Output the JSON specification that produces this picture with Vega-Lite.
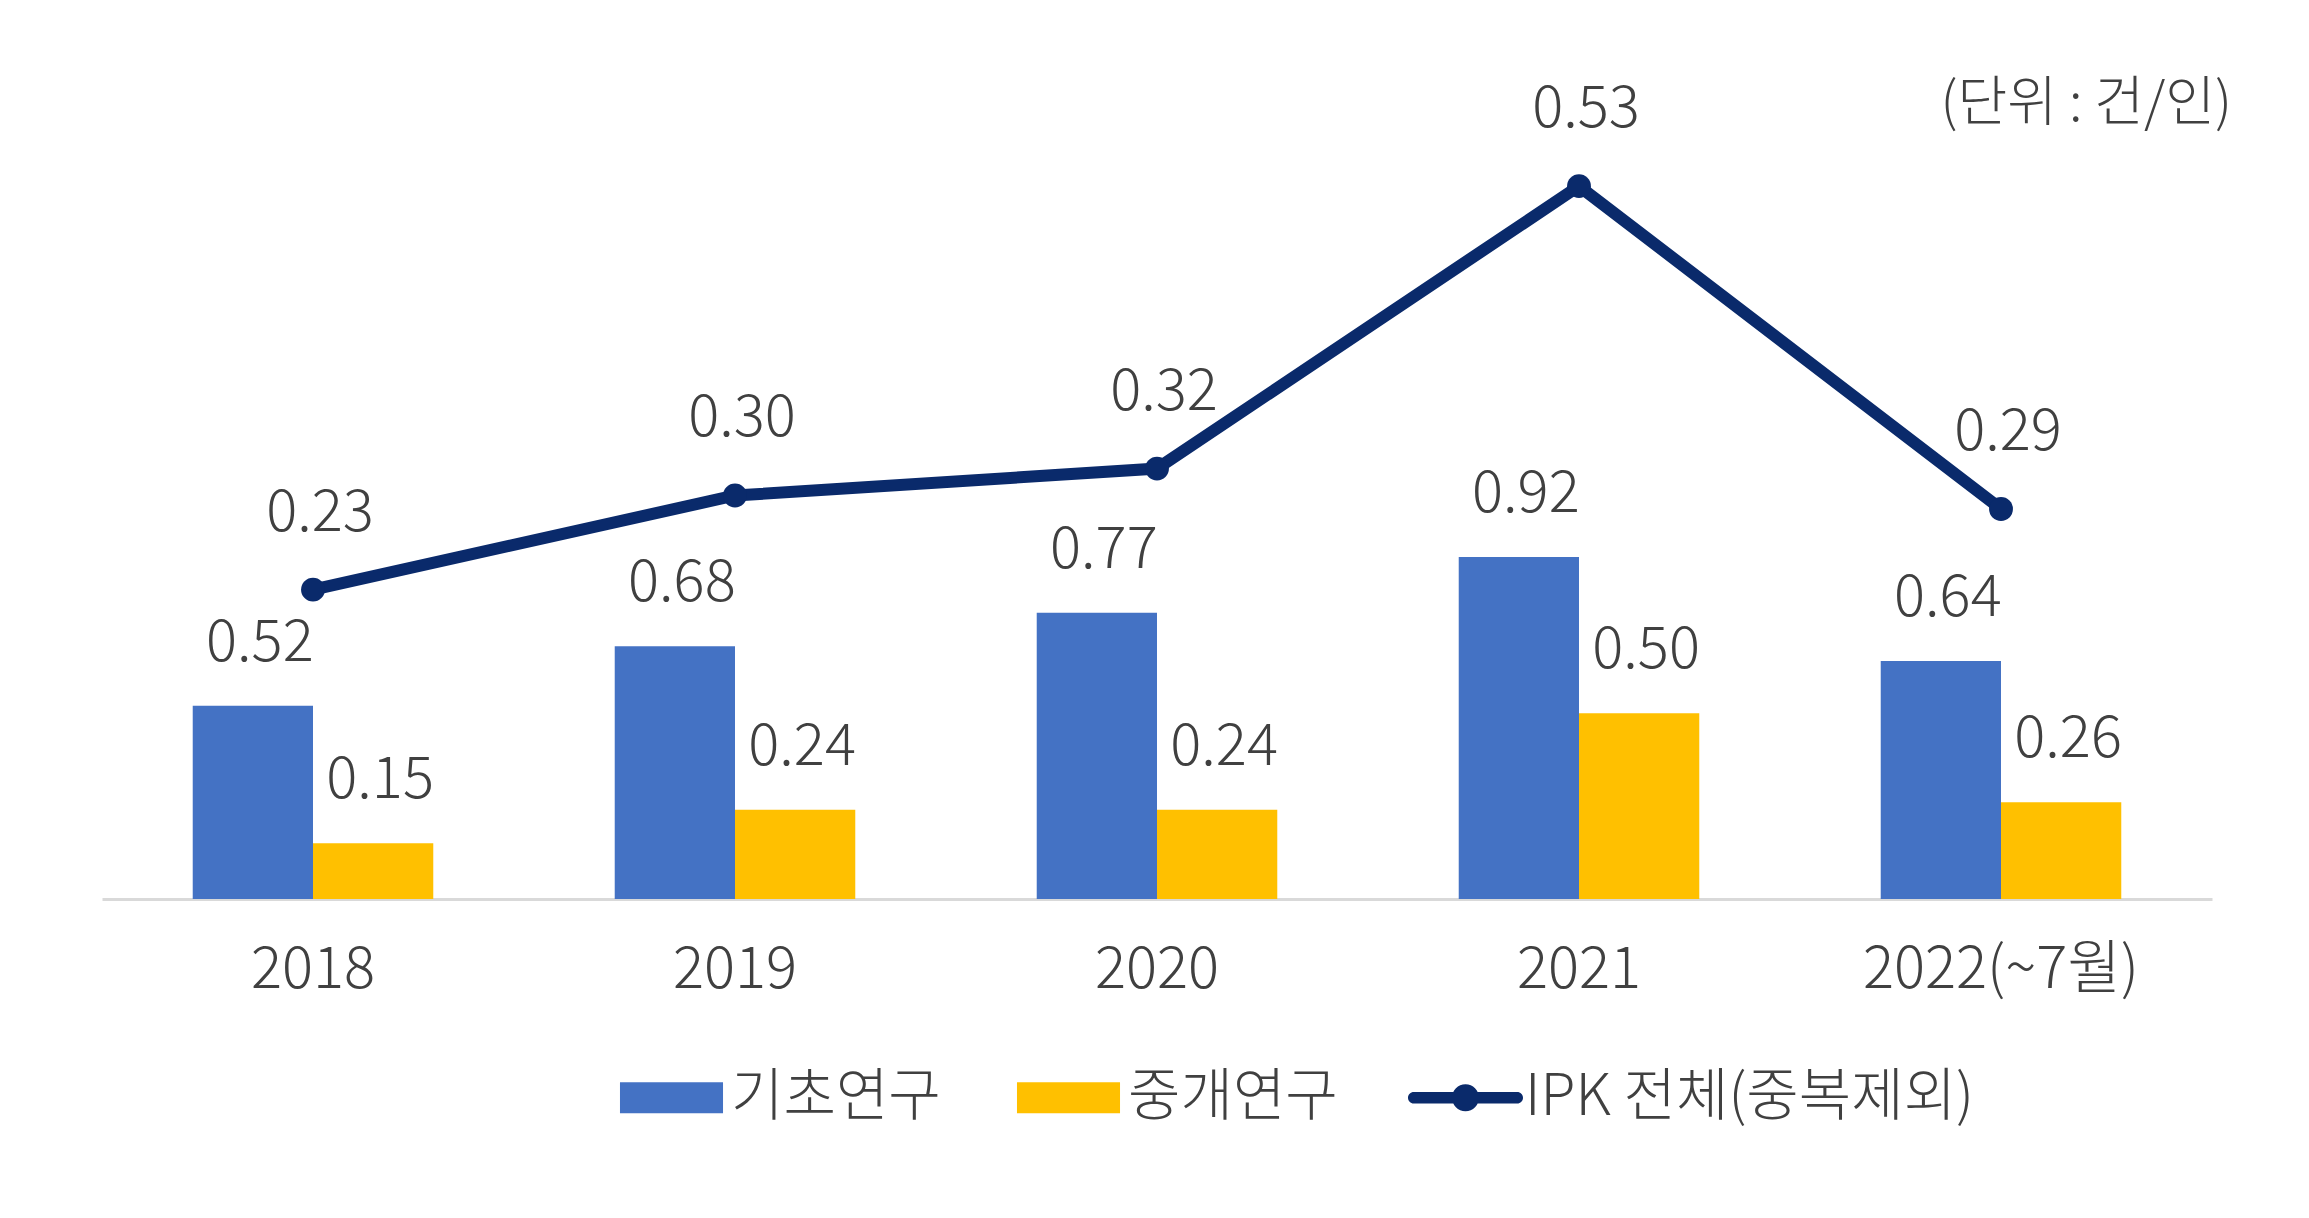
{
  "$schema": "https://vega.github.io/schema/vega-lite/v6.json",
  "width": 2110,
  "height": 881,
  "autosize": {"type": "none"},
  "padding": {"left": 102, "top": 18, "right": 97, "bottom": 319},
  "background": "white",
  "config": {"view": {"stroke": null}, "font": "Noto Sans CJK KR"},
  "title": {
    "text": "(단위 : 건/인)",
    "anchor": "end",
    "frame": "group",
    "orient": "top",
    "offset": 0,
    "baseline": "alphabetic",
    "dy": 157,
    "dx": 20,
    "fontSize": 54,
    "fontWeight": 300,
    "color": "#404040",
    "font": "Noto Sans CJK KR"
  },
  "data": {
    "values": [
      {"year": "2018", "series": "기초연구", "value": 0.52},
      {"year": "2019", "series": "기초연구", "value": 0.68},
      {"year": "2020", "series": "기초연구", "value": 0.77},
      {"year": "2021", "series": "기초연구", "value": 0.92},
      {"year": "2022(~7월)", "series": "기초연구", "value": 0.64},
      {"year": "2018", "series": "중개연구", "value": 0.15},
      {"year": "2019", "series": "중개연구", "value": 0.24},
      {"year": "2020", "series": "중개연구", "value": 0.24},
      {"year": "2021", "series": "중개연구", "value": 0.50},
      {"year": "2022(~7월)", "series": "중개연구", "value": 0.26},
      {"year": "2018", "series": "IPK 전체(중복제외)", "value": 0.23},
      {"year": "2019", "series": "IPK 전체(중복제외)", "value": 0.30},
      {"year": "2020", "series": "IPK 전체(중복제외)", "value": 0.32},
      {"year": "2021", "series": "IPK 전체(중복제외)", "value": 0.53},
      {"year": "2022(~7월)", "series": "IPK 전체(중복제외)", "value": 0.29}
    ]
  },
  "layer": [
    {
      "transform": [{"filter": "datum.series !== 'IPK 전체(중복제외)'"}],
      "encoding": {
        "x": {
          "field": "year",
          "type": "nominal",
          "sort": null,
          "scale": {"domain": ["2018", "2019", "2020", "2021", "2022(~7월)"], "paddingInner": 0.43, "paddingOuter": 0.215},
          "axis": {
            "title": null,
            "labelAngle": 0,
            "ticks": false,
            "tickSize": 0,
            "domainColor": "#D9D9D9",
            "domainWidth": 3,
            "labelFontSize": 58,
            "labelFontWeight": 300,
            "labelColor": "#404040",
            "labelFont": "Noto Sans CJK KR",
            "labelBaseline": "alphabetic",
            "labelPadding": 88,
            "labelLimit": 0,
            "labelOverlap": false,
            "grid": false
          }
        },
        "xOffset": {"field": "series", "type": "nominal", "scale": {"domain": ["기초연구", "중개연구"], "paddingInner": 0, "paddingOuter": 0}},
        "y": {"field": "value", "type": "quantitative", "scale": {"domain": [0, 2.37], "nice": false, "zero": true}, "axis": null}
      },
      "layer": [
        {
          "mark": {"type": "bar"},
          "encoding": {
            "color": {
              "field": "series",
              "type": "nominal",
              "scale": {"domain": ["기초연구", "중개연구", "IPK 전체(중복제외)"], "range": ["#4472C4", "#FFC000", "#0A2A6B"]},
              "legend": {
                "orient": "none",
                "direction": "horizontal",
                "legendX": 512,
                "legendY": 1022,
                "title": null,
                "labelFontSize": 57,
                "labelFontWeight": 300,
                "labelColor": "#404040",
                "labelFont": "Noto Sans CJK KR",
                "labelLimit": 0,
                "symbolSize": 13225,
                "labelOffset": 2,
                "columnPadding": 70,
                "symbolStrokeWidth": 0,
                "encode": {
                  "symbols": {
                    "update": {
                      "shape": {"signal": "datum.value === 'IPK 전체(중복제외)' ? 'M-0.9,-0.1H0.9A0.1,0.1 0 0,1 0.9,0.1H-0.9A0.1,0.1 0 0,1 -0.9,-0.1Z M-0.235,0A0.235,0.235 0 1,1 0.235,0A0.235,0.235 0 1,1 -0.235,0Z' : 'M-0.896,-0.27H0.896V0.27H-0.896Z'"},
                      "fill": {"scale": "color", "field": "value"},
                      "stroke": {"value": "transparent"},
                      "opacity": {"value": 1}
                    }
                  }
                }
              }
            }
          }
        },
        {
          "mark": {"type": "text", "dy": -45, "dx": 7, "baseline": "alphabetic", "fontSize": 58, "fontWeight": 300, "color": "#404040", "font": "Noto Sans CJK KR"},
          "encoding": {"text": {"field": "value", "type": "quantitative", "format": ".2f"}}
        }
      ]
    },
    {
      "transform": [{"filter": "datum.series === 'IPK 전체(중복제외)'"}],
      "encoding": {
        "x": {"field": "year", "type": "nominal", "sort": null},
        "y": {"field": "value", "type": "quantitative", "scale": {"domain": [0, 0.655], "nice": false, "zero": true}, "axis": null}
      },
      "layer": [
        {
          "mark": {"type": "line", "strokeWidth": 12},
          "encoding": {"color": {"field": "series", "type": "nominal"}}
        },
        {
          "mark": {"type": "point", "filled": true, "size": 570, "opacity": 1},
          "encoding": {"color": {"field": "series", "type": "nominal"}}
        },
        {
          "mark": {"type": "text", "dy": -59, "dx": 7, "baseline": "alphabetic", "fontSize": 58, "fontWeight": 300, "color": "#404040", "font": "Noto Sans CJK KR"},
          "encoding": {"text": {"field": "value", "type": "quantitative", "format": ".2f"}}
        }
      ]
    }
  ],
  "resolve": {"scale": {"y": "independent"}}
}
